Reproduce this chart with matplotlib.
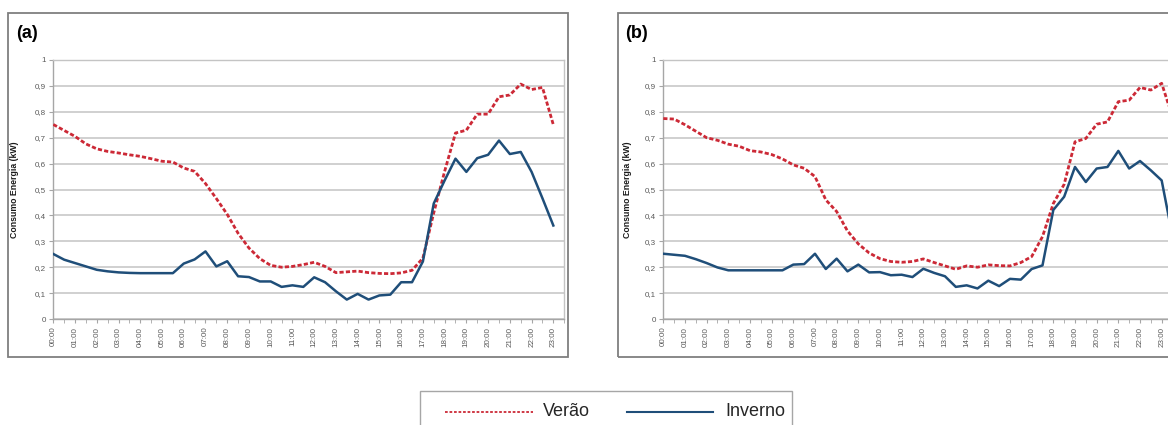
import numpy as np
import matplotlib
matplotlib.use("Agg")
import matplotlib.pyplot as plt
from matplotlib.patches import Rectangle
from matplotlib.lines import Line2D

plt.rcParams['font.family'] = ['Liberation Sans', 'DejaVu Sans']

# Rotulos do eixo x (um rotulo por hora, pontos de meia em meia hora)
rotulos = ["%02d:00" % h for h in range(24)]
yticks_txt = ["0", "0,1", "0,2", "0,3", "0,4", "0,5", "0,6", "0,7", "0,8", "0,9", "1"]

# (a) consumo medio (kW), 00:00 ate 23:00
verao_a = [0.751, 0.728, 0.705, 0.676, 0.657, 0.647, 0.641, 0.634, 0.628, 0.619,
           0.609, 0.606, 0.583, 0.570, 0.523, 0.465, 0.404, 0.331, 0.274, 0.233,
           0.207, 0.200, 0.203, 0.210, 0.219, 0.203, 0.179, 0.182, 0.185, 0.179,
           0.176, 0.175, 0.178, 0.188, 0.235, 0.410, 0.570, 0.718, 0.729, 0.791,
           0.791, 0.858, 0.865, 0.907, 0.886, 0.894, 0.750]
inverno_a = [0.251, 0.229, 0.216, 0.203, 0.190, 0.184, 0.180, 0.178, 0.177, 0.177,
             0.177, 0.177, 0.214, 0.230, 0.261, 0.203, 0.223, 0.165, 0.162, 0.145,
             0.145, 0.124, 0.130, 0.124, 0.161, 0.142, 0.107, 0.075, 0.097, 0.075,
             0.091, 0.094, 0.142, 0.142, 0.222, 0.446, 0.535, 0.619, 0.568, 0.621,
             0.634, 0.689, 0.637, 0.645, 0.568, 0.466, 0.361]

# (b) 00:00 ate 23:30
verao_b = [0.774, 0.772, 0.750, 0.725, 0.700, 0.690, 0.675, 0.667, 0.650, 0.645,
           0.635, 0.618, 0.595, 0.582, 0.550, 0.460, 0.415, 0.340, 0.290, 0.255,
           0.233, 0.222, 0.219, 0.222, 0.232, 0.218, 0.205, 0.192, 0.205, 0.200,
           0.209, 0.206, 0.205, 0.218, 0.241, 0.318, 0.446, 0.520, 0.684, 0.697,
           0.752, 0.761, 0.839, 0.845, 0.894, 0.884, 0.910, 0.780]
inverno_b = [0.252, 0.248, 0.244, 0.231, 0.216, 0.199, 0.188, 0.188, 0.188, 0.188,
             0.188, 0.188, 0.210, 0.212, 0.252, 0.193, 0.233, 0.184, 0.210, 0.180,
             0.181, 0.169, 0.171, 0.162, 0.194, 0.178, 0.165, 0.124, 0.130, 0.118,
             0.148, 0.127, 0.155, 0.152, 0.193, 0.207, 0.421, 0.472, 0.587, 0.529,
             0.581, 0.587, 0.649, 0.581, 0.610, 0.574, 0.535, 0.320]

cor_verao = '#cc2936'
cor_inverno = '#1f4e79'

W, H = 1168, 425
fig = plt.figure(figsize=(W / 100, H / 100), dpi=100)


def caixa(l, t, r, b):
    # converte pixeis (esquerda, topo, direita, base) em fracao da figura
    return [l / W, 1 - b / H, (r - l) / W, (b - t) / H]


def painel(pos, verao, inverno):
    ax = fig.add_axes(caixa(*pos))
    ax.plot(np.arange(len(verao)), verao, color=cor_verao, lw=2.0,
            ls=(0, (1.5, 0.8)), zorder=3)
    ax.plot(np.arange(len(inverno)), inverno, color=cor_inverno, lw=1.8, zorder=4)
    ax.set_xlim(0, 47)
    ax.set_ylim(0, 1)
    ax.set_xticks(np.arange(0, 47, 2))
    ax.set_xticklabels(rotulos, rotation=90)
    ax.set_xticks(np.arange(0, 48), minor=True)
    ax.set_yticks(np.arange(0, 1.01, 0.1))
    ax.set_yticklabels(yticks_txt)
    ax.yaxis.grid(True, color='#cdcdcd', lw=1.3)
    ax.set_axisbelow(True)
    for s in ax.spines.values():
        s.set_color('#c4c4c4')
        s.set_linewidth(1)
    ax.spines['left'].set_color('#a6a6a6')
    ax.spines['bottom'].set_color('#a6a6a6')
    ax.tick_params(axis='both', which='both', direction='out', length=3,
                   color='#a6a6a6', labelsize=5.8, labelcolor='#595959', pad=2.5)
    return ax


ax_a = painel((53.3, 60, 564.2, 319), verao_a, inverno_a)
ax_b = painel((663.3, 60, 1172.5, 319), verao_b, inverno_b)

# molduras exteriores de cada grafico
for l, r in [(8, 568), (618, 1178)]:
    fig.add_artist(Rectangle((l / W, 1 - 357 / H), (r - l) / W, (357 - 13) / H,
                             transform=fig.transFigure, fill=False,
                             edgecolor='#7f7f7f', lw=1.3))

for x0, letra in [(16, '(a)'), (625, '(b)')]:
    fig.text(x0 / W, 1 - 33 / H, letra, fontsize=13, fontweight='bold', va='center')
for x0 in [15, 627]:
    fig.text(x0 / W, 1 - 189.5 / H, 'Consumo Energia (kW)', rotation=90,
             fontsize=6.3, fontweight='bold', va='center', ha='center', color='#1a1a1a')

# legenda comum em baixo
fig.add_artist(Rectangle((420 / W, 1 - 440 / H), (792 - 420) / W, (440 - 391) / H,
                         transform=fig.transFigure, fill=False,
                         edgecolor='#a6a6a6', lw=1))
yl = 1 - 412 / H
fig.add_artist(Line2D([445 / W, 533 / W], [yl, yl], transform=fig.transFigure,
                      color=cor_verao, lw=1.3, ls=(0, (1.5, 1))))
fig.add_artist(Line2D([627 / W, 713 / W], [yl, yl], transform=fig.transFigure,
                      color=cor_inverno, lw=1.5))
fig.text(543 / W, yl, 'Verão', fontsize=13, va='center', color='#262626')
fig.text(725 / W, yl, 'Inverno', fontsize=13, va='center', color='#262626')

fig.savefig('out.png', dpi=100)
